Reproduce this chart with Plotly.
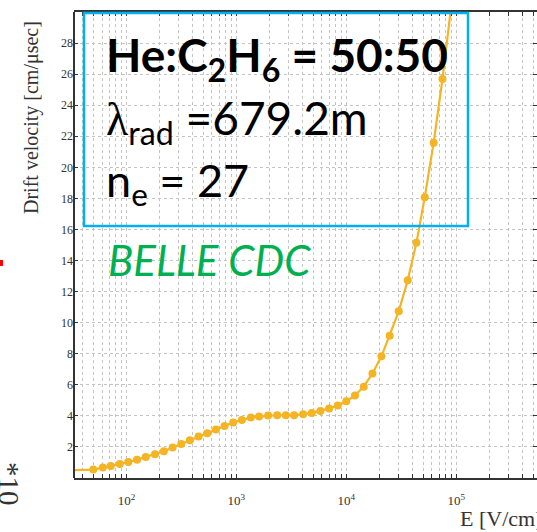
import plotly.graph_objects as go

# Drift velocity of He:C2H6 (50:50) versus electric field
field_v_per_cm = [30, 50, 61, 72, 87, 104, 125, 150, 182, 219, 263, 315, 378, 453, 543,
                  652, 782, 935, 1122, 1355, 1611, 1945, 2350, 2818, 3350, 4046, 4853,
                  5821, 6982, 8375, 10000, 11995, 14421, 17298, 20893, 24831, 29992,
                  36224, 43451, 51761, 62373, 74989, 90157]
drift_velocity = [0.50, 0.54, 0.67, 0.77, 0.90, 1.03, 1.18, 1.35, 1.53, 1.72, 1.96, 2.19,
                  2.43, 2.67, 2.88, 3.12, 3.35, 3.57, 3.74, 3.89, 3.96, 4.02, 4.04, 4.04,
                  4.04, 4.11, 4.19, 4.32, 4.47, 4.66, 4.94, 5.31, 5.88, 6.73, 7.83, 9.16,
                  10.73, 12.73, 15.14, 18.08, 21.59, 25.68, 30.4]

x_tick_vals = [100, 1000, 10000, 100000]
x_tick_text = ["10<sup>2</sup>", "10<sup>3</sup>", "10<sup>4</sup>", "10<sup>5</sup>"]
y_tick_vals = [2, 4, 6, 8, 10, 12, 14, 16, 18, 20, 22, 24, 26, 28]

W, H = 537, 532
L, R, T, B = 74, 537, 12, 478  # plot area in pixels


def px(x):
    return (x - L) / (R - L)


def py(y):
    return (B - y) / (B - T)


minor_vals = [k * 10 ** d for d in range(1, 6) for k in range(2, 10)]

SERIF = "Liberation Serif"
SANS = "Lato"
GRID = "#c4c4c4"
AXIS = "#333333"
CURVE = "#F5B423"

fig = go.Figure()
fig.add_trace(go.Scatter(
    x=field_v_per_cm, y=drift_velocity, mode="lines+markers",
    line=dict(color=CURVE, width=2.2),
    marker=dict(color=CURVE, size=8),
    showlegend=False,
))

fig.update_layout(
    width=W, height=H,
    margin=dict(l=L, r=W - R, t=T, b=H - B),
    paper_bgcolor="white", plot_bgcolor="white",
    xaxis=dict(
        type="log", range=[1.523, 5.735],
        tickmode="array", tickvals=x_tick_vals, ticktext=x_tick_text,
        ticks="inside", ticklen=4, tickcolor=AXIS, tickwidth=1.2,
        showline=True, mirror="ticks", linecolor=AXIS, linewidth=1.5,
        showgrid=True, gridcolor=GRID, griddash="dot", gridwidth=1,
        zeroline=False,
        tickfont=dict(family=SERIF, size=13, color="#333333"),
        ticklabelstandoff=10,
        minor=dict(tickmode="array", tickvals=minor_vals, ticks="inside", ticklen=4,
                   tickcolor=AXIS, tickwidth=1.2,
                   showgrid=True, gridcolor=GRID, griddash="dot", gridwidth=1),
    ),
    yaxis=dict(
        range=[0, 30], tickmode="array", tickvals=y_tick_vals,
        ticks="inside", ticklen=4, tickcolor=AXIS, tickwidth=1.2,
        showline=False, mirror="ticks",
        showgrid=True, gridcolor=GRID, griddash="dot", gridwidth=1,
        zeroline=False,
        tickfont=dict(family=SERIF, size=12, color="#333333"),
    ),
)

shapes = [
    # left axis spine
    dict(type="line", xref="paper", yref="paper", x0=0, x1=0, y0=0, y1=1,
         line=dict(color=AXIS, width=2), layer="above"),
    # gas-mixture info box
    dict(type="rect", xref="paper", yref="paper",
         x0=px(84), x1=px(468), y0=py(226), y1=py(13),
         line=dict(color="#00B0F0", width=2.5), layer="above"),
    # small red marker on the left
    dict(type="rect", xref="paper", yref="paper",
         x0=px(-2), x1=px(3), y0=py(266), y1=py(260),
         line=dict(width=0), fillcolor="#FF0000"),
]
fig.update_layout(shapes=shapes)


def label(text, x, y, size, family, color, angle=0, xanchor="center"):
    return dict(text=text, x=px(x), y=py(y), xref="paper", yref="paper",
                xanchor=xanchor, yanchor="middle", textangle=angle, showarrow=False,
                font=dict(family=family, size=size, color=color))


ann = [
    label("Drift velocity [cm/μsec]", 31, 118, 20, SERIF, "#333333", angle=-90),
    label("E [V/cm]", 458, 518, 22, SERIF, "#333333", xanchor="left"),
    label("*10", 9, 484, 29, SERIF, "#333333", angle=90),
    label("<b>He:C<sub>2</sub>H<sub>6</sub> = 50:50</b>", 104, 58, 46, SANS, "black",
          xanchor="left"),
    label("<span style=\"font-family:'Liberation Serif'\">λ</span><sub>rad</sub> =679.2m",
          104, 121, 46, SANS, "black", xanchor="left"),
    label("n<sub>e</sub> = 27", 104, 183, 45, SANS, "black", xanchor="left"),
    label("<i>BELLE CDC</i>", 106, 260, 42, SANS, "#00B050", xanchor="left"),
]
fig.update_layout(annotations=ann)

fig.write_html("out.html")
